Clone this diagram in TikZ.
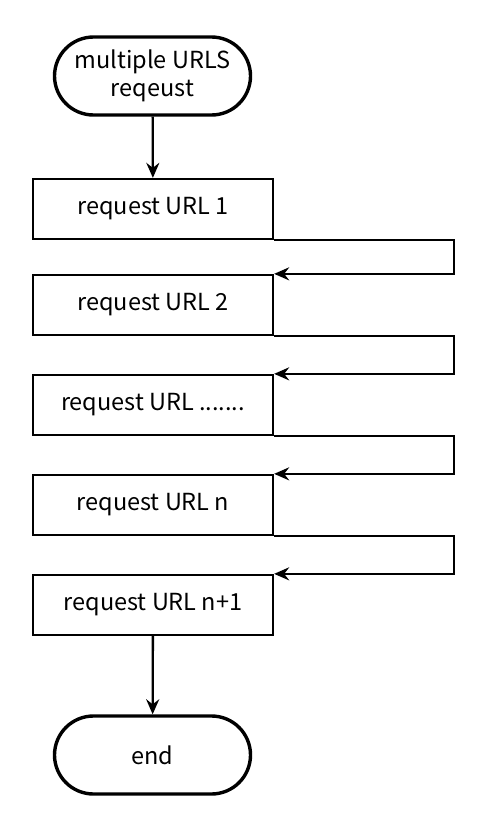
\documentclass[tikz,border=0pt]{standalone}
\usepackage{fontspec}
\setmainfont{Noto Sans CJK SC}
\usetikzlibrary{shapes.misc,arrows.meta}

\tikzset{
  terminal/.style={rounded rectangle, draw, line width=3.4pt, minimum width=196pt, minimum height=78pt, font=\fontsize{23.5}{28}\selectfont, align=center, inner sep=0pt},
  urlbox/.style={rectangle, draw, line width=2.3pt, minimum width=240pt, minimum height=60pt, font=\fontsize{23.5}{28}\selectfont, inner sep=0pt},
  flow/.style={line width=2.3pt, -{Stealth[length=15pt,width=13pt,inset=5pt]}}
}

\begin{document}
\begin{tikzpicture}[x=1pt,y=-1pt]
\useasboundingbox[fill=white] (0,0) rectangle (502,838);

\node[terminal] (start) at (152.5,76) {multiple URLS\\reqeust};

\node[urlbox] (url1) at (153,209) {request URL 1};
\node[urlbox] (url2) at (153,305) {request URL 2};
\node[urlbox] (url3) at (153,405) {request URL .......};
\node[urlbox] (url4) at (153,505) {request URL n};
\node[urlbox] (url5) at (153,605) {request URL n+1};

\node[terminal] (end) at (152.5,755) {end};

\draw[flow] (start) -- (url1);
\draw[flow] (url5) -- (end);

% loop back into the next request
\foreach \a/\b in {url1/url2, url2/url3, url3/url4, url4/url5} {
  \draw[flow] (\a.south east) -- ++(180,0) |- (\b.north east);
}

\end{tikzpicture}
\end{document}
